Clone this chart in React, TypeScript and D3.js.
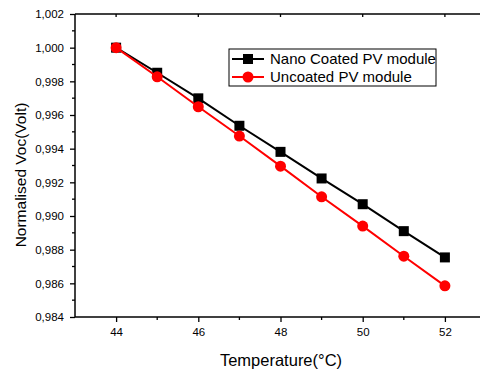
import React, { useEffect, useRef } from 'react';
import * as d3 from 'd3';

const temperatures = [44, 45, 46, 47, 48, 49, 50, 51, 52];
const nanoCoated = [1.0, 0.99851, 0.99699, 0.99536, 0.99381, 0.99223, 0.9907, 0.9891, 0.98754];
const uncoated = [1.0, 0.99827, 0.99649, 0.99475, 0.99296, 0.99114, 0.9894, 0.98761, 0.98585];
const xTicks = [44, 46, 48, 50, 52];
const xMinorTicks = [45, 47, 49, 51, 53];
const yTicks = [0.984, 0.986, 0.988, 0.99, 0.992, 0.994, 0.996, 0.998, 1.0, 1.002];
const yMinorTicks = [0.985, 0.987, 0.989, 0.991, 0.993, 0.995, 0.997, 0.999, 1.001];
const seriesNames = ['Nano Coated PV module', 'Uncoated PV module'];

const App = () => {
  const ref = useRef<SVGSVGElement>(null);

  useEffect(() => {
    const svg = d3.select(ref.current);
    svg.selectAll('*').remove();

    const left = 75, right = 486, top = 14, bottom = 317;
    const font = 'Liberation Sans, Arial, sans-serif';

    const x = d3.scaleLinear().domain([43, 53]).range([left, right]);
    const y = d3.scaleLinear().domain([0.984, 1.002]).range([bottom, top]);
    const comma = d3.formatLocale({ decimal: ',', thousands: '.', grouping: [3], currency: ['', ''] }).format('.3f');

    // bottom axis
    const gx = svg.append('g').attr('transform', `translate(0,${bottom})`);
    gx.call(d3.axisBottom(x).tickValues(xTicks).tickSize(5).tickPadding(6).tickFormat(d3.format('d')));
    gx.call(g => g.select('.domain').attr('d', `M${left},0H${right}`).attr('stroke-width', 1.5));
    gx.selectAll('.tick line').attr('stroke-width', 1.3);
    gx.selectAll('text').style('font-family', font).style('font-size', '11.5px').attr('fill', '#000');
    gx.selectAll('.minor').data(xMinorTicks).enter().append('line')
      .attr('x1', d => x(d)).attr('x2', d => x(d)).attr('y1', 0).attr('y2', 3)
      .attr('stroke', '#000').attr('stroke-width', 1.3);

    // left axis
    const gy = svg.append('g').attr('transform', `translate(${left},0)`);
    gy.call(d3.axisLeft(y).tickValues(yTicks).tickSize(5).tickPadding(6).tickFormat(d => comma(d as number)));
    gy.call(g => g.select('.domain').attr('d', `M0,${bottom}V${top}`).attr('stroke-width', 1.5));
    gy.selectAll('.tick line').attr('stroke-width', 1.3);
    gy.selectAll('text').style('font-family', font).style('font-size', '11.5px').attr('fill', '#000');
    gy.selectAll('.minor').data(yMinorTicks).enter().append('line')
      .attr('x1', -3).attr('x2', 0).attr('y1', d => y(d)).attr('y2', d => y(d))
      .attr('stroke', '#000').attr('stroke-width', 1.3);

    // top axis (mirror)
    const gt = svg.append('g').attr('transform', `translate(0,${top})`);
    gt.append('line').attr('x1', left).attr('x2', right).attr('stroke', '#000').attr('stroke-width', 1.5);
    gt.selectAll('.t').data(xTicks).enter().append('line')
      .attr('x1', d => x(d)).attr('x2', d => x(d)).attr('y1', 0).attr('y2', 3)
      .attr('stroke', '#000').attr('stroke-width', 1.3);

    // right axis (mirror)
    svg.append('line').attr('x1', right).attr('x2', right).attr('y1', top).attr('y2', bottom)
      .attr('stroke', '#000').attr('stroke-width', 1.5);

    const line = d3.line<number>().x((d, i) => x(temperatures[i])).y(d => y(d));

    // nano coated (black squares)
    svg.append('path').datum(nanoCoated).attr('d', line)
      .attr('fill', 'none').attr('stroke', '#000').attr('stroke-width', 2);
    svg.selectAll('.sq').data(nanoCoated).enter().append('rect')
      .attr('x', (d, i) => x(temperatures[i]) - 5).attr('y', d => y(d) - 5)
      .attr('width', 10).attr('height', 10).attr('fill', '#000');

    // uncoated (red circles)
    svg.append('path').datum(uncoated).attr('d', line)
      .attr('fill', 'none').attr('stroke', '#ff0000').attr('stroke-width', 2);
    svg.selectAll('.ci').data(uncoated).enter().append('circle')
      .attr('cx', (d, i) => x(temperatures[i])).attr('cy', d => y(d))
      .attr('r', 5.5).attr('fill', '#ff0000');

    // legend
    const lg = svg.append('g');
    lg.append('rect').attr('x', 229).attr('y', 49).attr('width', 207).attr('height', 37)
      .attr('fill', '#fff').attr('stroke', '#000').attr('stroke-width', 1);
    seriesNames.forEach((name, i) => {
      const cy = 59 + i * 18;
      lg.append('line').attr('x1', 232).attr('x2', 264).attr('y1', cy).attr('y2', cy)
        .attr('stroke', i === 0 ? '#000' : '#ff0000').attr('stroke-width', 2);
      if (i === 0) {
        lg.append('rect').attr('x', 243).attr('y', cy - 5).attr('width', 10).attr('height', 10).attr('fill', '#000');
      } else {
        lg.append('circle').attr('cx', 248).attr('cy', cy).attr('r', 5.5).attr('fill', '#ff0000');
      }
      lg.append('text').attr('x', 270).attr('y', cy).attr('dy', '0.35em')
        .style('font-family', font).style('font-size', '15px').text(name);
    });

    // axis titles
    svg.append('text').attr('x', 281).attr('y', 366)
      .attr('text-anchor', 'middle').style('font-family', font).style('font-size', '16.5px')
      .text('Temperature(°C)');
    svg.append('text').attr('transform', `translate(26,175) rotate(-90)`)
      .attr('text-anchor', 'middle').style('font-family', font).style('font-size', '15.5px')
      .text('Normalised Voc(Volt)');
  }, []);

  return (
    <svg ref={ref} width={480} height={372}
      style={{ position: 'absolute', left: 0, top: 0, background: '#fff' }} />
  );
};

export default App;
